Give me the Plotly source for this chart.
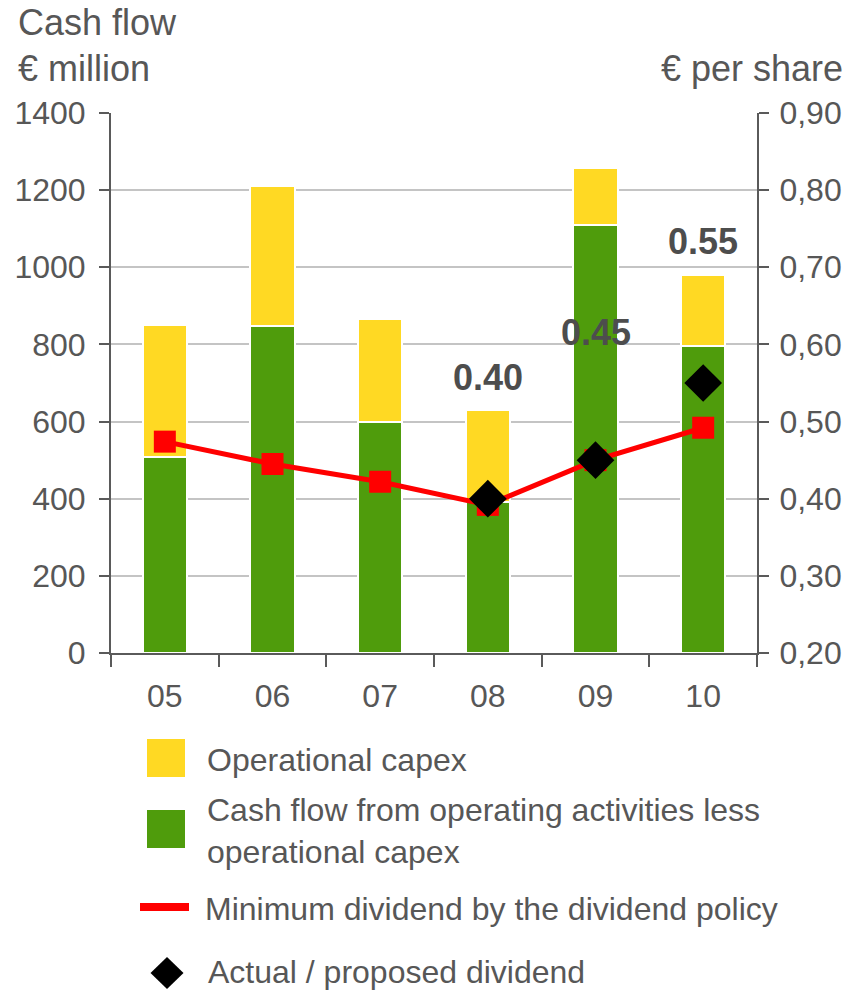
import plotly.graph_objects as go

# Fiscal years (two-digit labels)
years = ["05", "06", "07", "08", "09", "10"]

# € million
cash_flow_less_capex = [508, 848, 600, 392, 1110, 796]
operational_capex = [342, 363, 266, 238, 147, 184]

# € per share
minimum_dividend = [0.474, 0.445, 0.422, 0.392, 0.450, 0.492]
dividend_years = ["08", "09", "10"]
actual_dividend = [0.40, 0.45, 0.55]
dividend_label_y = [0.557, 0.615, 0.733]

GREEN = "#4f9c0c"
YELLOW = "#ffd923"
RED = "#ff0000"
TEXT = "#575757"
AXIS = "#5a5a5a"
GRID = "#c4c4c4"
FONT = "Liberation Sans, Arial, sans-serif"

fig = go.Figure()

fig.add_trace(go.Bar(
    x=years, y=cash_flow_less_capex, name="Cash flow from operating activities less operational capex",
    marker=dict(color=GREEN, line=dict(color="white", width=2)), width=0.41,
))
fig.add_trace(go.Bar(
    x=years, y=operational_capex, name="Operational capex",
    marker=dict(color=YELLOW, line=dict(color="white", width=2)), width=0.41,
))
fig.add_trace(go.Scatter(
    x=years, y=minimum_dividend, yaxis="y2", mode="lines+markers",
    name="Minimum dividend by the dividend policy",
    line=dict(color=RED, width=5),
    marker=dict(symbol="square", size=22, color=RED),
))
fig.add_trace(go.Scatter(
    x=dividend_years, y=actual_dividend, yaxis="y2", mode="markers",
    name="Actual / proposed dividend",
    marker=dict(symbol="diamond", size=29, color="black"),
))

annotations = []
for yr, val, ly in zip(dividend_years, actual_dividend, dividend_label_y):
    annotations.append(dict(
        x=years.index(yr), y=ly, xref="x", yref="y2", text="%.2f" % val, showarrow=False,
        font=dict(family=FONT, size=36, color="#4d4d4d", weight="bold"),
    ))

# Pixel -> paper conversion for items outside the plot area
PX0, PX1, PY0, PY1 = 111, 757, 653, 113


def px(x):
    return (x - PX0) / (PX1 - PX0)


def py(y):
    return (PY0 - y) / (PY0 - PY1)


# Axis titles
for x, y, t, anchor in [(16, 22, "Cash flow", "left"), (16, 68, "€ million", "left"),
                        (845, 68, "€ per share", "right")]:
    annotations.append(dict(
        x=px(x), y=py(y), xref="paper", yref="paper", text=t, showarrow=False,
        xanchor=anchor, yanchor="middle", font=dict(family=FONT, size=36, color=TEXT),
    ))

# Custom legend rows
shapes = [
    dict(type="rect", xref="paper", yref="paper", x0=px(147), x1=px(185), y0=py(739), y1=py(777),
         fillcolor=YELLOW, line=dict(width=0)),
    dict(type="rect", xref="paper", yref="paper", x0=px(147), x1=px(185), y0=py(810), y1=py(848),
         fillcolor=GREEN, line=dict(width=0)),
    dict(type="line", xref="paper", yref="paper", x0=px(140), x1=px(189), y0=py(907), y1=py(907),
         line=dict(color=RED, width=8)),
    dict(type="path", xref="paper", yref="paper", xsizemode="pixel", ysizemode="pixel",
         xanchor=px(167), yanchor=py(973), path="M 0 16 L 16.5 0 L 0 -16 L -16.5 0 Z",
         fillcolor="black", line=dict(width=0)),
]

legend_text = [
    (205, 760, "Operational capex"),
    (205, 831, "Cash flow from operating activities less<br>operational capex"),
    (203, 909, "Minimum dividend by the dividend policy"),
    (206, 972, "Actual / proposed dividend"),
]
for x, y, t in legend_text:
    annotations.append(dict(
        x=px(x), y=py(y), xref="paper", yref="paper", text=t, showarrow=False,
        xanchor="left", yanchor="middle", align="left",
        font=dict(family=FONT, size=32, color=TEXT),
    ))

fig.update_layout(
    width=848, height=991,
    margin=dict(l=111, r=91, t=113, b=338, autoexpand=False),
    paper_bgcolor="white", plot_bgcolor="white",
    barmode="stack", showlegend=False,
    separators=",.",
    font=dict(family=FONT, size=32, color=TEXT),
    xaxis=dict(
        type="category", range=[-0.5, 5.5], showline=True, linecolor=AXIS, linewidth=2,
        ticks="outside", tickson="boundaries", ticklen=12, tickcolor=AXIS, tickwidth=2,
        ticklabelstandoff=14, showgrid=False, zeroline=False, automargin=False,
    ),
    yaxis=dict(
        range=[0, 1400], dtick=200, showline=True, linecolor=AXIS, linewidth=2,
        ticks="outside", ticklen=10, tickcolor=AXIS, tickwidth=2, ticklabelstandoff=7,
        showgrid=True, gridcolor=GRID, gridwidth=2, zeroline=False, automargin=False,
    ),
    yaxis2=dict(
        range=[0.2, 0.9], dtick=0.1, tickformat=".2f", overlaying="y", side="right",
        showline=True, linecolor=AXIS, linewidth=2, ticks="outside", ticklen=10,
        tickcolor=AXIS, tickwidth=2, ticklabelstandoff=4, showgrid=False, zeroline=False,
        automargin=False,
    ),
    annotations=annotations,
    shapes=shapes,
)

fig.write_html("out.html")
